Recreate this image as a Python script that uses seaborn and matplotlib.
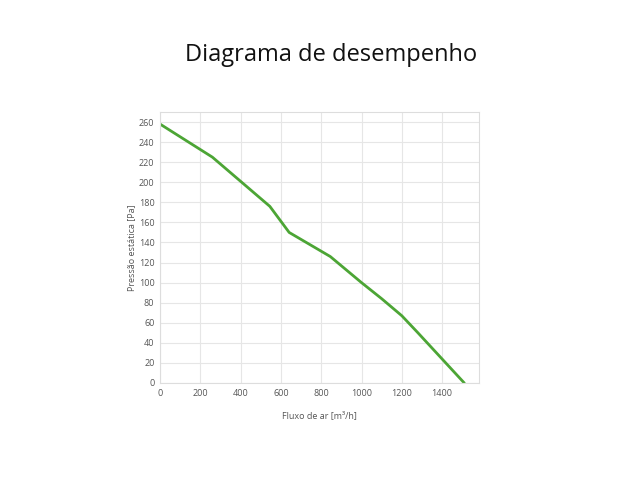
import numpy as np
import pandas as pd
import matplotlib
matplotlib.use('Agg')
import matplotlib.pyplot as plt
import seaborn as sns

# curve
flow = [0, 260, 545, 641, 845, 1000, 1100, 1200, 1280, 1510]
pressure = [258, 225, 176, 150, 126, 100, 84, 67, 50, 0]

x_ticks = [0, 200, 400, 600, 800, 1000, 1200, 1400]
y_ticks = list(range(0, 261, 20))

sns.set_style('white')
plt.rcParams['font.family'] = ['Open Sans', 'DejaVu Sans']

df = pd.DataFrame({'flow': flow, 'pressure': pressure})

fig = plt.figure(figsize=(6.4, 4.8), dpi=100)
ax = fig.add_axes([160 / 640, 1 - 383 / 480, (479 - 160) / 640, (383 - 112) / 480])

sns.lineplot(data=df, x='flow', y='pressure', ax=ax, color='#4ca535', linewidth=2.0)

ax.set_xlim(0, 1583)
ax.set_ylim(0, 270)
ax.set_xticks(x_ticks)
ax.set_yticks(y_ticks)
ax.grid(True, color='#e6e6e6', linewidth=0.8)
ax.set_axisbelow(True)
ax.tick_params(axis='both', length=0, labelsize=6.5, labelcolor='#555555', pad=4)
for s in ax.spines.values():
    s.set_color('#dddddd')
    s.set_linewidth(0.8)

ax.set_xlabel('Fluxo de ar [m³/h]', fontsize=6.5, color='#555555', labelpad=10)
ax.set_ylabel('Pressão estática [Pa]', fontsize=6.5, color='#555555', labelpad=2)

fig.text(331 / 640, 1 - 55 / 480, 'Diagrama de desempenho', ha='center', va='center',
         fontsize=17, color='#111111')

fig.savefig('out.png', dpi=100)
